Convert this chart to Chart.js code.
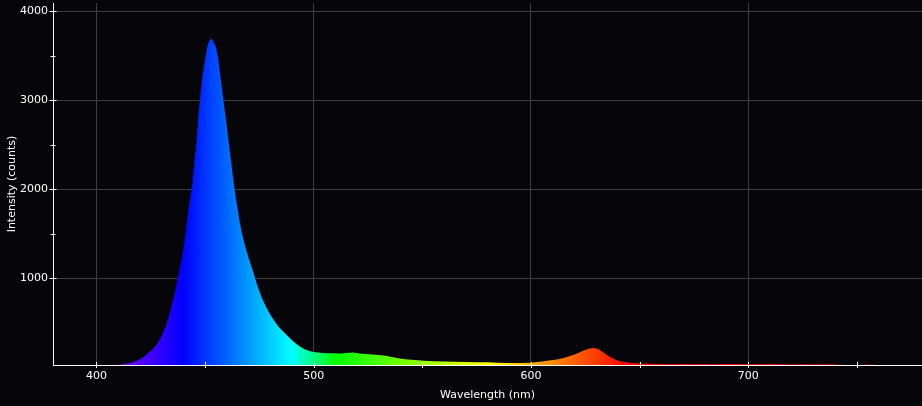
<!DOCTYPE html>
<html>
<head>
<meta charset="utf-8">
<script src="https://cdn.jsdelivr.net/npm/chart.js@4.4.1/dist/chart.umd.min.js"></script>
<style>
html, body { margin: 0; padding: 0; background: #060509; }
</style>
</head>
<body>
<canvas id="spectrum" width="922" height="406"></canvas>
<script>
// wavelength (nm) and intensity (counts)
const wavelengths = [380, 405, 410, 412, 414, 416, 418, 420, 422, 424, 426, 428, 430, 432, 434, 436, 438,
  440, 441, 442, 443, 444, 445, 446, 447, 448, 449, 450, 451, 452, 453, 454, 455, 456, 457, 458, 459,
  460, 461, 462, 463, 464, 465, 466, 467, 468, 469, 470, 472, 474, 476, 478, 480, 482, 484, 486, 488,
  490, 492, 494, 496, 498, 500, 503, 506, 509, 512, 515, 518, 521, 524, 527, 530, 533, 536, 539, 542,
  545, 548, 551, 555, 560, 565, 570, 575, 580, 585, 590, 595, 600, 603, 606, 609, 612, 615, 618, 621,
  624, 627, 629, 631, 633, 635, 637, 639, 641, 643, 645, 648, 651, 655, 660, 665, 670, 675, 680, 685,
  690, 695, 700, 705, 710, 715, 720, 725, 730, 735, 740, 745, 750, 755, 760, 765, 770, 780];
const counts = [0, 0, 20, 34, 40, 50, 68, 90, 118, 165, 205, 265, 350, 465, 630, 830, 1060,
  1318, 1500, 1700, 1880, 2030, 2280, 2520, 2850, 3090, 3300, 3460, 3600, 3670, 3690, 3650, 3590, 3470, 3270, 3080, 2890,
  2700, 2500, 2300, 2104, 1920, 1770, 1620, 1500, 1400, 1310, 1230, 1080, 920, 785, 680, 590, 515, 450, 400, 350,
  303, 262, 228, 200, 183, 172, 162, 157, 158, 155, 160, 165, 155, 148, 142, 138, 128, 115, 100, 90,
  83, 77, 72, 67, 63, 62, 60, 57, 55, 51, 48, 48, 50, 60, 68, 78, 88, 103, 125, 150,
  185, 210, 215, 205, 170, 138, 108, 85, 67, 58, 52, 46, 42, 38, 35, 34, 35, 33, 35, 34,
  36, 35, 36, 34, 35, 33, 32, 34, 30, 33, 31, 24, 20, 30, 24, 20, 18, 15];

const xTicks = [400, 450, 500, 550, 600, 650, 700, 750];
const yTicks = [1000, 1500, 2000, 2500, 3000, 3500, 4000];

function wlColor(w) {
  let r = 0, g = 0, b = 0;
  if (w < 440) { r = (440 - w) / 60; b = 1; }
  else if (w < 490) { g = (w - 440) / 50; b = 1; }
  else if (w < 510) { g = 1; b = (510 - w) / 20; }
  else if (w < 580) { r = (w - 510) / 70; g = 1; }
  else if (w < 645) { r = 1; g = (645 - w) / 65; }
  else { r = 1; }
  return 'rgb(' + Math.round(r * 255) + ',' + Math.round(g * 255) + ',' + Math.round(b * 255) + ')';
}

function spectrumFill(context) {
  const chart = context.chart;
  const area = chart.chartArea;
  if (!area) return '#0040ff';
  const x = chart.scales.x;
  const x0 = x.getPixelForValue(380), x1 = x.getPixelForValue(780);
  const grad = chart.ctx.createLinearGradient(x0, 0, x1, 0);
  for (let w = 380; w <= 780; w += 5) {
    grad.addColorStop((w - 380) / 400, wlColor(w));
  }
  return grad;
}

const bg = {
  id: 'bg',
  beforeDraw(chart) {
    const c = chart.ctx;
    c.save();
    c.fillStyle = '#060509';
    c.fillRect(0, 0, chart.width, chart.height);
    c.restore();
  }
};

const tickMarks = {
  id: 'tickMarks',
  afterDraw(chart) {
    const c = chart.ctx, a = chart.chartArea, x = chart.scales.x, y = chart.scales.y;
    c.save();
    c.strokeStyle = '#ffffff';
    c.lineWidth = 1;
    c.beginPath();
    x.ticks.forEach(t => {
      const px = Math.round(x.getPixelForValue(t.value)) + 0.5;
      c.moveTo(px, a.bottom - 3);
      c.lineTo(px, a.bottom + 3);
    });
    y.ticks.forEach(t => {
      const py = Math.round(y.getPixelForValue(t.value)) + 0.5;
      const len = t.value % 1000 === 0 ? 3.5 : 2.5;
      c.moveTo(a.left - len, py);
      c.lineTo(a.left + len, py);
    });
    c.stroke();
    c.restore();
  }
};

const font = { family: 'DejaVu Sans', size: 11 };
const gridColor = ctx => (ctx.tick && ctx.tick.value % 1000 === 0) ? '#3e3e3e' : 'rgba(0,0,0,0)';
const gridColorX = ctx => (ctx.tick && ctx.tick.value % 100 === 0) ? '#3e3e3e' : 'rgba(0,0,0,0)';

const chart = new Chart(document.getElementById('spectrum'), {
  type: 'line',
  data: {
    labels: wavelengths,
    datasets: [{
      data: wavelengths.map((w, i) => ({ x: w, y: counts[i] })),
      fill: 'start',
      backgroundColor: spectrumFill,
      borderWidth: 0,
      pointRadius: 0,
      tension: 0
    }]
  },
  options: {
    responsive: false,
    animation: false,
    devicePixelRatio: 1,
    layout: { padding: { top: 3, right: 0, left: 0, bottom: 0 } },
    plugins: { legend: { display: false }, tooltip: { enabled: false } },
    scales: {
      x: {
        type: 'linear',
        min: 380,
        max: 780,
        z: 1,
        afterBuildTicks: s => { s.ticks = xTicks.map(v => ({ value: v })); },
        afterFit: s => { s.height = 41; s.paddingLeft = 0; s.paddingRight = 0; },
        ticks: {
          color: '#ffffff', font: font, padding: 5, maxRotation: 0, autoSkip: false,
          callback: v => v % 100 === 0 ? String(v) : ''
        },
        grid: { color: gridColorX, drawTicks: false, lineWidth: 1 },
        border: { color: '#ffffff', width: 1 },
        title: { display: true, text: 'Wavelength (nm)', color: '#ffffff', font: font, padding: { top: 0, bottom: 4 } }
      },
      y: {
        min: 25,
        max: 4090,
        z: 1,
        afterBuildTicks: s => { s.ticks = yTicks.map(v => ({ value: v })); },
        afterFit: s => { s.width = 53; s.paddingTop = 0; s.paddingBottom = 0; },
        ticks: {
          color: '#ffffff', font: font, padding: 5, autoSkip: false,
          callback: v => v % 1000 === 0 ? String(v) : ''
        },
        grid: { color: gridColor, drawTicks: false, lineWidth: 1 },
        border: { color: '#ffffff', width: 1 },
        title: { display: true, text: 'Intensity (counts)', color: '#ffffff', font: font, padding: { top: 6, bottom: 0 } }
      }
    }
  },
  plugins: [bg, tickMarks]
});
</script>
</body>
</html>
